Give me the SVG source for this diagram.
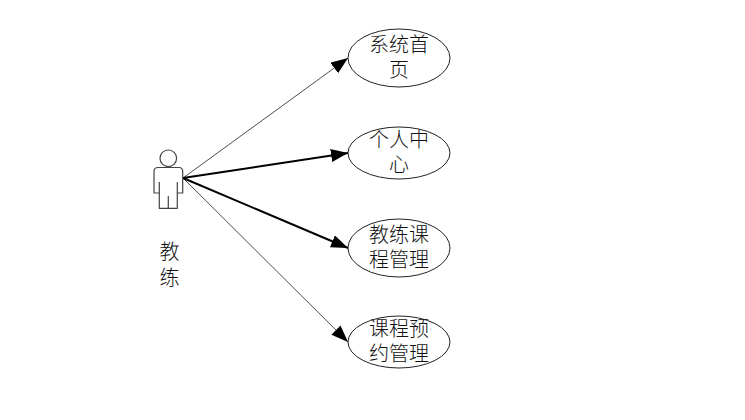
<svg xmlns="http://www.w3.org/2000/svg" width="745" height="420" viewBox="0 0 745 420">
<style>
.n{fill:#fff;stroke:#222;stroke-width:1}
.t{font-family:"Noto Sans CJK SC","Noto Sans CJK JP",sans-serif;font-size:20px;font-weight:300;fill:#111;text-anchor:middle}
.a{fill:#fff;stroke:#444;stroke-width:1.2;stroke-linejoin:round}
.c{fill:none;stroke:#000}
</style>
<defs>
<marker id="ah" markerUnits="userSpaceOnUse" markerWidth="18" markerHeight="14" refX="17" refY="6.5" orient="auto"><path d="M0 0L17 6.5L0 13Z" fill="#000"/></marker>
</defs>
<rect width="745" height="420" fill="#fff"/>
<g id="connectors">
<path class="c" stroke-width="0.7" d="M183 178L348 58" marker-end="url(#ah)"/>
<path class="c" stroke-width="2" d="M183 178L348 153" marker-end="url(#ah)"/>
<path class="c" stroke-width="2" d="M183 178L348 248" marker-end="url(#ah)"/>
<path class="c" stroke-width="0.7" d="M183 178L348 342" marker-end="url(#ah)"/>
</g>
<g id="actor">
<circle class="a" cx="168.3" cy="158.3" r="8.3"/>
<path class="a" d="M158 167.5H179Q182.7 167.5 182.7 171.500V193H177.300V208.300H159.300V193H154V171.500Q154 167.500 158 167.500Z"/>
<path class="a" fill="none" d="M159.300 182V193M177.300 182V193M168.300 196V208.300"/>
<text class="t" x="169.500" y="259">教</text>
<text class="t" x="169.500" y="285">练</text>
</g>
<g id="node1">
<ellipse class="n" cx="399" cy="58" rx="51" ry="29"/>
<text class="t" x="399" y="52">系统首</text>
<text class="t" x="399" y="77">页</text>
</g>
<g id="node2">
<ellipse class="n" cx="399" cy="153" rx="51" ry="26"/>
<text class="t" x="399" y="147">个人中</text>
<text class="t" x="399" y="172">心</text>
</g>
<g id="node3">
<ellipse class="n" cx="399" cy="248" rx="51" ry="29"/>
<text class="t" x="399" y="242">教练课</text>
<text class="t" x="399" y="267">程管理</text>
</g>
<g id="node4">
<ellipse class="n" cx="399" cy="342" rx="51" ry="26"/>
<text class="t" x="399" y="336">课程预</text>
<text class="t" x="399" y="361">约管理</text>
</g>
</svg>
